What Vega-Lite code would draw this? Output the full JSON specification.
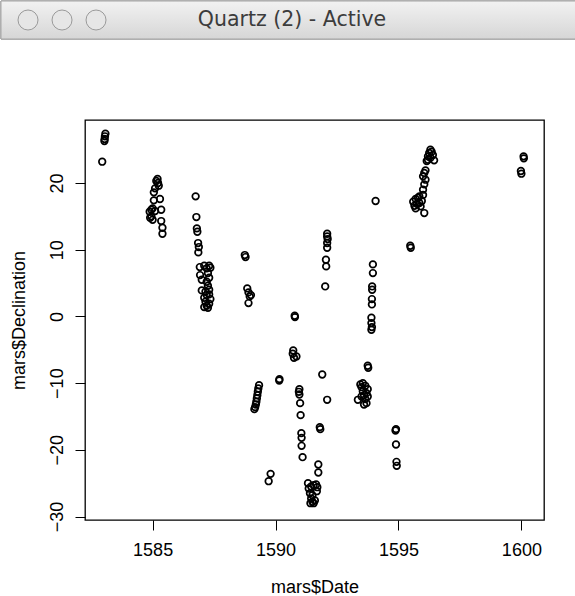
{
  "$schema": "https://vega.github.io/schema/vega-lite/v6.json",
  "padding": 0,
  "background": "white",
  "columns": 1,
  "spacing": 79,
  "align": "none",
  "config": {"font": "Liberation Sans", "view": {"stroke": null}},
  "concat": [
    {
      "width": 491,
      "height": 38,
      "data": {"values": [{"button": 1}, {"button": 2}, {"button": 3}]},
      "layer": [
        {
          "mark": {"type": "rect", "fill": {"gradient": "linear", "x1": 0, "y1": 0, "x2": 0, "y2": 1, "stops": [{"offset": 0, "color": "#f2f2f2"}, {"offset": 1, "color": "#d6d6d6"}]}, "stroke": "#a4a4a4", "strokeWidth": 1},
          "encoding": {
            "x": {"datum": 0.2054, "type": "quantitative", "scale": {"domain": [2.676, 17.117], "nice": false, "zero": false}, "axis": null},
            "x2": {"datum": 17.117}
          }
        },
        {
          "mark": {"type": "point", "shape": "circle", "filled": true, "size": 400, "fill": "#e6e6e6", "stroke": "#9a9a9a", "strokeWidth": 1, "opacity": 1},
          "encoding": {
            "x": {"field": "button", "type": "quantitative"}
          }
        },
        {
          "data": {"values": [{"label": "Quartz (2) - Active"}]},
          "mark": {"type": "text", "fontSize": 20.5, "font": "DejaVu Sans", "color": "#3c3c3c"},
          "encoding": {"x": {"datum": 8.764, "type": "quantitative"}, "text": {"field": "label", "type": "nominal"}}
        }
      ]
    },
    {
      "width": 459,
      "height": 400,
      "view": {"stroke": "black", "strokeWidth": 1.3},
      "data": {"values": [
        {"Date": 1582.95, "Declination": 23.2}, {"Date": 1583.08, "Declination": 27.4}, {"Date": 1583.06, "Declination": 27.0}, {"Date": 1583.05, "Declination": 26.6}, {"Date": 1583.04, "Declination": 26.3},
        {"Date": 1585.2, "Declination": 20.6}, {"Date": 1585.15, "Declination": 20.3}, {"Date": 1585.22, "Declination": 20.0}, {"Date": 1585.25, "Declination": 19.6}, {"Date": 1585.1, "Declination": 19.2}, {"Date": 1585.05, "Declination": 18.6}, {"Date": 1585.05, "Declination": 17.4}, {"Date": 1585.3, "Declination": 17.6}, {"Date": 1584.95, "Declination": 16.0}, {"Date": 1584.88, "Declination": 15.7}, {"Date": 1585.1, "Declination": 15.8}, {"Date": 1585.35, "Declination": 16.0}, {"Date": 1584.95, "Declination": 15.0}, {"Date": 1585.0, "Declination": 14.5}, {"Date": 1585.35, "Declination": 14.3}, {"Date": 1585.4, "Declination": 13.3}, {"Date": 1585.4, "Declination": 12.4}, {"Date": 1584.9, "Declination": 14.8}, {"Date": 1585.0, "Declination": 16.2},
        {"Date": 1586.75, "Declination": 18.0}, {"Date": 1586.78, "Declination": 14.9}, {"Date": 1586.8, "Declination": 13.2}, {"Date": 1586.82, "Declination": 12.7}, {"Date": 1586.85, "Declination": 11.0}, {"Date": 1586.88, "Declination": 10.4}, {"Date": 1586.86, "Declination": 9.6}, {"Date": 1586.92, "Declination": 7.4}, {"Date": 1586.93, "Declination": 6.2},
        {"Date": 1587.1, "Declination": 7.6}, {"Date": 1587.2, "Declination": 7.2}, {"Date": 1587.3, "Declination": 7.6}, {"Date": 1587.25, "Declination": 6.5}, {"Date": 1587.3, "Declination": 5.8}, {"Date": 1587.2, "Declination": 5.2}, {"Date": 1587.25, "Declination": 4.6}, {"Date": 1587.3, "Declination": 4.0}, {"Date": 1587.15, "Declination": 3.7}, {"Date": 1587.2, "Declination": 3.2}, {"Date": 1587.1, "Declination": 2.8}, {"Date": 1587.15, "Declination": 2.2}, {"Date": 1587.2, "Declination": 1.6}, {"Date": 1587.25, "Declination": 1.3}, {"Date": 1587.3, "Declination": 1.9}, {"Date": 1587.35, "Declination": 2.6}, {"Date": 1587.0, "Declination": 3.9}, {"Date": 1587.1, "Declination": 1.4}, {"Date": 1587.35, "Declination": 7.3}, {"Date": 1587.3, "Declination": 3.3}, {"Date": 1587.0, "Declination": 5.5},
        {"Date": 1588.75, "Declination": 9.2}, {"Date": 1588.78, "Declination": 8.9}, {"Date": 1588.85, "Declination": 4.2}, {"Date": 1588.9, "Declination": 3.6}, {"Date": 1589.0, "Declination": 3.2}, {"Date": 1588.95, "Declination": 3.0}, {"Date": 1588.9, "Declination": 2.0},
        {"Date": 1589.33, "Declination": -10.3}, {"Date": 1589.3, "Declination": -10.8}, {"Date": 1589.28, "Declination": -11.3}, {"Date": 1589.26, "Declination": -11.8}, {"Date": 1589.24, "Declination": -12.3}, {"Date": 1589.22, "Declination": -12.8}, {"Date": 1589.2, "Declination": -13.2}, {"Date": 1589.17, "Declination": -13.6}, {"Date": 1589.14, "Declination": -13.9},
        {"Date": 1589.72, "Declination": -24.7}, {"Date": 1589.8, "Declination": -23.6},
        {"Date": 1590.15, "Declination": -9.6}, {"Date": 1590.16, "Declination": -9.4},
        {"Date": 1590.78, "Declination": 0.1}, {"Date": 1590.79, "Declination": -0.1},
        {"Date": 1590.72, "Declination": -5.1}, {"Date": 1590.7, "Declination": -5.6}, {"Date": 1590.75, "Declination": -6.2}, {"Date": 1590.85, "Declination": -6.0},
        {"Date": 1590.97, "Declination": -10.9}, {"Date": 1590.95, "Declination": -11.3}, {"Date": 1590.97, "Declination": -11.7}, {"Date": 1591.0, "Declination": -13.0}, {"Date": 1591.02, "Declination": -14.8}, {"Date": 1591.05, "Declination": -17.5}, {"Date": 1591.06, "Declination": -18.2}, {"Date": 1591.06, "Declination": -19.4}, {"Date": 1591.1, "Declination": -21.1},
        {"Date": 1591.32, "Declination": -25.0}, {"Date": 1591.35, "Declination": -25.8}, {"Date": 1591.4, "Declination": -26.5}, {"Date": 1591.45, "Declination": -27.3}, {"Date": 1591.5, "Declination": -27.8}, {"Date": 1591.55, "Declination": -28.0}, {"Date": 1591.6, "Declination": -27.6}, {"Date": 1591.65, "Declination": -25.2}, {"Date": 1591.7, "Declination": -25.6}, {"Date": 1591.68, "Declination": -26.2}, {"Date": 1591.5, "Declination": -26.8}, {"Date": 1591.45, "Declination": -25.5}, {"Date": 1591.55, "Declination": -25.3}, {"Date": 1591.42, "Declination": -28.0},
        {"Date": 1591.74, "Declination": -22.2}, {"Date": 1591.74, "Declination": -23.4}, {"Date": 1591.8, "Declination": -16.6}, {"Date": 1591.82, "Declination": -16.9}, {"Date": 1591.9, "Declination": -8.7}, {"Date": 1592.1, "Declination": -12.5},
        {"Date": 1592.1, "Declination": 12.4}, {"Date": 1592.1, "Declination": 12.0}, {"Date": 1592.12, "Declination": 11.6}, {"Date": 1592.1, "Declination": 11.0}, {"Date": 1592.1, "Declination": 10.3}, {"Date": 1592.05, "Declination": 8.5}, {"Date": 1592.06, "Declination": 7.5}, {"Date": 1592.02, "Declination": 4.5},
        {"Date": 1593.45, "Declination": -10.2}, {"Date": 1593.5, "Declination": -10.6}, {"Date": 1593.55, "Declination": -11.2}, {"Date": 1593.6, "Declination": -11.8}, {"Date": 1593.65, "Declination": -12.4}, {"Date": 1593.7, "Declination": -13.0}, {"Date": 1593.75, "Declination": -10.9}, {"Date": 1593.75, "Declination": -12.0}, {"Date": 1593.35, "Declination": -12.5}, {"Date": 1593.6, "Declination": -13.2}, {"Date": 1593.55, "Declination": -10.0}, {"Date": 1593.7, "Declination": -11.5}, {"Date": 1593.5, "Declination": -12.0}, {"Date": 1593.65, "Declination": -10.4},
        {"Date": 1593.75, "Declination": -7.4}, {"Date": 1593.77, "Declination": -7.7},
        {"Date": 1594.07, "Declination": 17.3}, {"Date": 1593.96, "Declination": 7.8}, {"Date": 1593.96, "Declination": 6.5}, {"Date": 1593.93, "Declination": 4.5}, {"Date": 1593.93, "Declination": 4.0}, {"Date": 1593.92, "Declination": 2.6}, {"Date": 1593.92, "Declination": 1.8}, {"Date": 1593.9, "Declination": -0.2}, {"Date": 1593.9, "Declination": -1.0}, {"Date": 1593.92, "Declination": -1.6}, {"Date": 1593.9, "Declination": -2.0},
        {"Date": 1594.88, "Declination": -17.1}, {"Date": 1594.9, "Declination": -16.9}, {"Date": 1594.9, "Declination": -19.2}, {"Date": 1594.92, "Declination": -21.8}, {"Date": 1594.93, "Declination": -22.4},
        {"Date": 1595.48, "Declination": 10.6}, {"Date": 1595.5, "Declination": 10.3},
        {"Date": 1595.6, "Declination": 17.2}, {"Date": 1595.65, "Declination": 16.6}, {"Date": 1595.7, "Declination": 17.6}, {"Date": 1595.75, "Declination": 16.9}, {"Date": 1595.8, "Declination": 17.8}, {"Date": 1595.85, "Declination": 17.0}, {"Date": 1595.9, "Declination": 16.5}, {"Date": 1595.95, "Declination": 17.3}, {"Date": 1596.0, "Declination": 18.2}, {"Date": 1595.7, "Declination": 16.2}, {"Date": 1595.85, "Declination": 18.0},
        {"Date": 1596.05, "Declination": 15.5},
        {"Date": 1596.0, "Declination": 19.0}, {"Date": 1596.05, "Declination": 19.8}, {"Date": 1596.1, "Declination": 20.5}, {"Date": 1596.0, "Declination": 21.0}, {"Date": 1596.05, "Declination": 21.5}, {"Date": 1596.1, "Declination": 21.9},
        {"Date": 1596.15, "Declination": 23.3}, {"Date": 1596.2, "Declination": 24.0}, {"Date": 1596.25, "Declination": 24.5}, {"Date": 1596.3, "Declination": 25.0}, {"Date": 1596.35, "Declination": 24.7}, {"Date": 1596.4, "Declination": 24.2}, {"Date": 1596.45, "Declination": 23.4}, {"Date": 1596.2, "Declination": 23.5}, {"Date": 1596.3, "Declination": 23.8},
        {"Date": 1600.09, "Declination": 24.0}, {"Date": 1600.1, "Declination": 23.7}, {"Date": 1599.98, "Declination": 21.8}, {"Date": 1600.0, "Declination": 21.4}
      ]},
      "mark": {"type": "point", "shape": "circle", "filled": false, "stroke": "black", "strokeWidth": 1.7, "size": 44, "opacity": 1},
      "encoding": {
        "x": {
          "field": "Date", "type": "quantitative",
          "scale": {"domain": [1582.25, 1600.92], "nice": false, "zero": false},
          "axis": {"values": [1585, 1590, 1595, 1600], "format": "d", "title": "mars$Date", "grid": false, "domain": false,
            "tickColor": "black", "tickSize": 10, "tickWidth": 1, "labelFontSize": 18, "labelColor": "black", "labelPadding": 11,
            "titleFontSize": 18, "titleFontWeight": "normal", "titleColor": "black", "titlePadding": 19}
        },
        "y": {
          "field": "Declination", "type": "quantitative",
          "scale": {"domain": [-30.52, 29.45], "nice": false, "zero": false},
          "axis": {"values": [-30, -20, -10, 0, 10, 20], "format": "d", "title": "mars$Declination", "grid": false, "domain": false,
            "tickColor": "black", "tickSize": 10, "tickWidth": 1, "labelFontSize": 18, "labelColor": "black", "labelPadding": 9,
            "labelAngle": 270, "labelAlign": "center", "labelBaseline": "bottom",
            "titleFontSize": 18, "titleFontWeight": "normal", "titleColor": "black", "titlePadding": 20}
        }
      }
    }
  ]
}
